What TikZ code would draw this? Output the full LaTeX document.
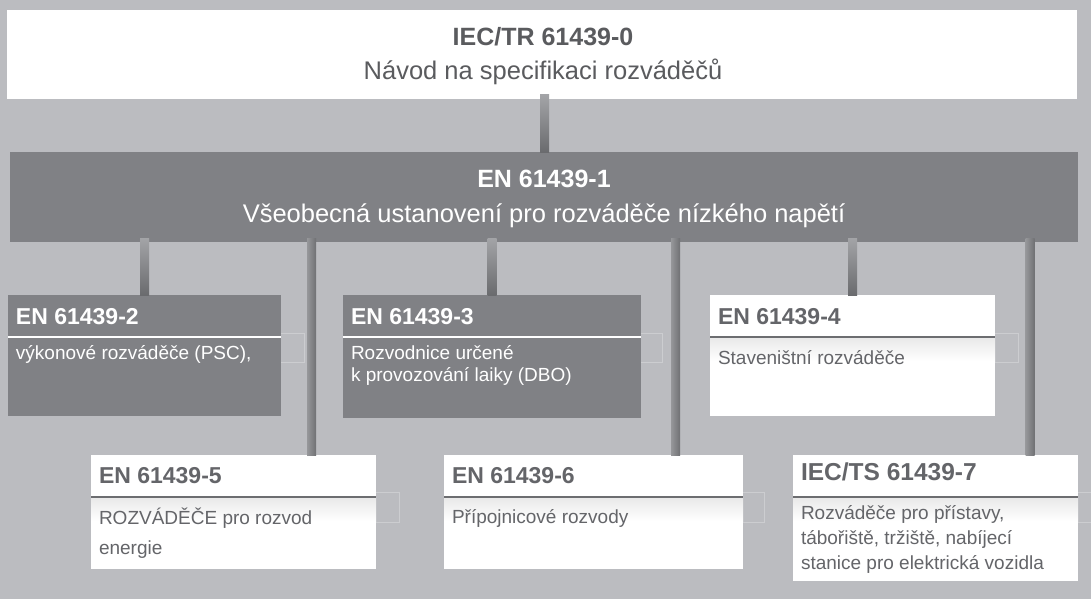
\documentclass[tikz,border=0pt]{standalone}
\usepackage{fontspec}
\setmainfont{Liberation Sans}
\usetikzlibrary{calc}
\definecolor{bg}{RGB}{187,188,192}
\definecolor{boxgray}{RGB}{128,129,133}
\definecolor{txtgray}{RGB}{100,101,105}
\definecolor{toptxt}{RGB}{90,91,94}
\definecolor{ghost}{RGB}{204,205,208}
\definecolor{connT}{RGB}{163,164,167}
\definecolor{connB}{RGB}{106,107,110}
\definecolor{connL}{RGB}{150,151,154}
\definecolor{connM}{RGB}{124,125,128}
\definecolor{connR}{RGB}{112,113,116}
\definecolor{hline}{RGB}{108,109,112}
\newcommand\myconn[4]{\shade[#4] ($(#1.south -| #3)+(-4.5,-4)$) rectangle ($(#2.north -| #3)+(4.5,0)$);}
\begin{document}
\begin{tikzpicture}[x=1pt,y=-1pt,
  box/.style={rectangle, inner sep=0pt, outer sep=0pt, anchor=north west},
  whitebox/.style={box, fill=white},
  graybox/.style={box, fill=boxgray},
  lbl/.style={inner sep=0pt, outer sep=0pt, anchor=base west},
  clbl/.style={inner sep=0pt, outer sep=0pt, anchor=base},
  bigbold/.style={font=\fontsize{25}{30}\selectfont\bfseries},
  bigreg/.style={font=\fontsize{25.5}{30}\selectfont},
  hdr/.style={lbl, font=\fontsize{23}{27}\selectfont\bfseries},
  body/.style={lbl, font=\fontsize{19}{23}\selectfont},
  hdrline/.style={line width=2pt},
  ghostbox/.style={draw=ghost, line width=0.6pt},
  conn/.style={top color=connT, bottom color=connB},
  longconn/.style={left color=connL, middle color=connM, right color=connR}
]
\fill[bg] (0,0) rectangle (1091,599);
\useasboundingbox (0,0) rectangle (1091,599);

% ghost rectangles
\draw[ghostbox] (270,333) rectangle (304,362);
\draw[ghostbox] (630,333) rectangle (662,362);
\draw[ghostbox] (985,333) rectangle (1018,362);
\draw[ghostbox] (365,492) rectangle (399,522);
\draw[ghostbox] (733,492) rectangle (764,522);
\draw[ghostbox] (1068,492) rectangle (1095,522);

% boxes
\node[whitebox, minimum width=1070pt, minimum height=89pt] (top) at (7,10) {};
\node[graybox, minimum width=1068pt, minimum height=90pt] (b1) at (10,152) {};
\node[graybox, minimum width=273pt, minimum height=121pt] (b2) at (8,295) {};
\node[graybox, minimum width=298pt, minimum height=123pt] (b3) at (343,295) {};
\node[whitebox, minimum width=285pt, minimum height=121pt] (b4) at (710,295) {};
\node[whitebox, minimum width=285pt, minimum height=114pt] (b5) at (91,455) {};
\node[whitebox, minimum width=299pt, minimum height=114pt] (b6) at (444,455) {};
\node[whitebox, minimum width=285pt, minimum height=126pt] (b7) at (793,455) {};

% subtle band under header lines of white boxes
\foreach \b in {b4,b5,b6,b7}{
  \shade[top color=black!9, bottom color=white] ($(\b.north west)+(0,42)$) rectangle ($(\b.north east)+(0,66)$);
}

% header lines
\draw[hdrline, white] ($(b2.north west)+(0,42)$) -- ($(b2.north east)+(0,42)$);
\draw[hdrline, white] ($(b3.north west)+(0,42)$) -- ($(b3.north east)+(0,42)$);
\draw[hdrline, hline] ($(b4.north west)+(0,42)$) -- ($(b4.north east)+(0,42)$);
\draw[hdrline, hline] ($(b5.north west)+(0,42)$) -- ($(b5.north east)+(0,42)$);
\draw[hdrline, hline] ($(b6.north west)+(0,42)$) -- ($(b6.north east)+(0,42)$);
\draw[hdrline, hline] ($(b7.north west)+(0,42)$) -- ($(b7.north east)+(0,42)$);

% connector x positions
\coordinate (x0) at (544.5,0);
\coordinate (x2) at (144.5,0);
\coordinate (x5) at (311.5,0);
\coordinate (x3) at (492,0);
\coordinate (x6) at (675.5,0);
\coordinate (x4) at (852.5,0);
\coordinate (x7) at (1030,0);

\myconn{top}{b1}{x0}{conn}
\myconn{b1}{b2}{x2}{conn}
\myconn{b1}{b5}{x5}{longconn}
\myconn{b1}{b3}{x3}{conn}
\myconn{b1}{b6}{x6}{longconn}
\myconn{b1}{b4}{x4}{conn}
\myconn{b1}{b7}{x7}{longconn}

% texts
\node[clbl, bigbold, text=toptxt] (t0a) at (543,45.5) {IEC/TR 61439-0};
\node[clbl, bigreg, text=toptxt] (t0b) at (543,79.5) {Návod na specifikaci rozváděčů};

\node[clbl, bigbold, text=white] (t1a) at (544,187.5) {EN 61439-1};
\node[clbl, bigreg, text=white] (t1b) at (544,222.5) {Všeobecná ustanovení pro rozváděče nízkého napětí};

\node[hdr, text=white] (t2a) at (16,324) {EN 61439-2};
\node[body, text=white] (t2b) at (16,359) {výkonové rozváděče (PSC),};

\node[hdr, text=white] (t3a) at (351,324) {EN 61439-3};
\node[body, text=white] (t3b) at (351,359) {Rozvodnice určené};
\node[body, text=white] (t3c) at (351,381) {k provozování laiky (DBO)};

\node[hdr, text=txtgray] (t4a) at (718,324) {EN 61439-4};
\node[body, text=txtgray] (t4b) at (718,364) {Staveništní rozváděče};

\node[hdr, text=txtgray] (t5a) at (99,483) {EN 61439-5};
\node[body, text=txtgray] (t5b) at (99,524) {ROZVÁDĚČE pro rozvod};
\node[body, text=txtgray] (t5c) at (99,554) {energie};

\node[hdr, text=txtgray] (t6a) at (452,483) {EN 61439-6};
\node[body, text=txtgray] (t6b) at (452,523) {Přípojnicové rozvody};

\node[hdr, text=txtgray, font=\fontsize{24.5}{29}\selectfont\bfseries] (t7a) at (801,480) {IEC/TS 61439-7};
\node[body, text=txtgray] (t7b) at (801,519) {Rozváděče pro přístavy,};
\node[body, text=txtgray] (t7c) at (801,544) {tábořiště, tržiště, nabíjecí};
\node[body, text=txtgray] (t7d) at (801,569) {stanice pro elektrická vozidla};
\end{tikzpicture}
\end{document}
